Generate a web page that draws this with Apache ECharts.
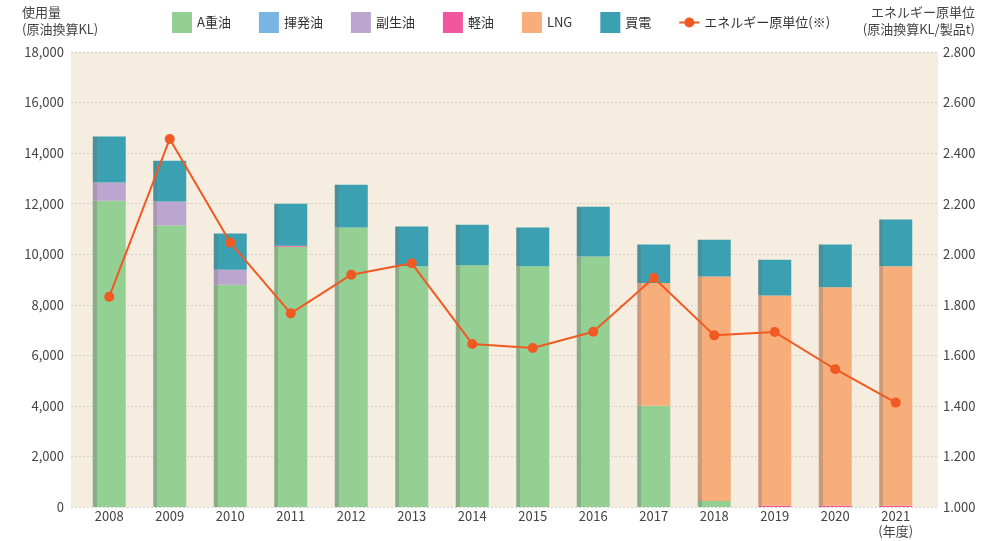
<!DOCTYPE html>
<html>
<head>
<meta charset="utf-8">
<script src="https://cdn.jsdelivr.net/npm/echarts@6/dist/echarts.min.js"></script>
<style>
  html, body { margin: 0; padding: 0; background: #fff; }
</style>
</head>
<body>
<div id="chart" style="width: 983px; height: 541px"></div>
<script>
// 年度
const years = ['2008', '2009', '2010', '2011', '2012', '2013', '2014', '2015', '2016', '2017', '2018', '2019', '2020', '2021\n(年度)'];
// 使用量 (原油換算KL)
const aHeavyOil = [12120, 11140, 8790, 10300, 11060, 9520, 9560, 9520, 9910, 4010, 240, 0, 0, 0];
const volatileOil = [0, 0, 0, 0, 0, 0, 0, 0, 0, 0, 0, 0, 0, 0];
const byproductOil = [720, 950, 600, 0, 0, 0, 0, 0, 0, 0, 0, 0, 0, 0];
const lightOil = [0, 0, 0, 40, 0, 0, 0, 0, 0, 0, 0, 50, 50, 50];
const lng = [0, 0, 0, 0, 0, 0, 0, 0, 0, 4850, 8880, 8320, 8640, 9470];
const boughtPower = [1820, 1610, 1430, 1660, 1690, 1580, 1610, 1540, 1970, 1520, 1450, 1410, 1690, 1850];
// エネルギー原単位
const intensity = [1.832, 2.456, 2.046, 1.766, 1.919, 1.964, 1.645, 1.629, 1.693, 1.907, 1.679, 1.692, 1.545, 1.413];

const leftTicks = [0, 18000, 2000];
const rightTicks = [1.0, 2.8, 0.2];

const FONT = '"Noto Sans CJK JP", "Noto Sans", sans-serif';

// 左側に暗い帯を入れて立体っぽく見せる
function sideShade(main, side) {
  return {
    type: 'linear', x: 0, y: 0, x2: 1, y2: 0,
    colorStops: [
      { offset: 0, color: side },
      { offset: 0.12, color: side },
      { offset: 0.12, color: main },
      { offset: 1, color: main }
    ]
  };
}

function barSeries(name, data, main, side) {
  return {
    name: name,
    type: 'bar',
    stack: 'use',
    xAxisIndex: 0,
    yAxisIndex: 0,
    barWidth: 33,
    color: main,
    itemStyle: { color: sideShade(main, side) },
    data: data
  };
}

function legendRect(name, color) {
  return { name: name, icon: 'rect', itemStyle: { color: color } };
}

const chart = echarts.init(document.getElementById('chart'));
chart.setOption({
  animation: false,
  textStyle: { fontFamily: FONT },
  legend: {
    top: 7,
    left: 167,
    itemWidth: 20,
    itemHeight: 21,
    itemGap: 28,
    textStyle: { fontSize: 13, color: '#333', fontFamily: FONT },
    data: [
      legendRect('A重油', '#94cf94'),
      legendRect('揮発油', '#7ab4e0'),
      legendRect('副生油', '#bba6cf'),
      legendRect('軽油', '#f0579e'),
      legendRect('LNG', '#f8ae7a'),
      legendRect('買電', '#3aa0b2'),
      {
        name: 'エネルギー原単位(※)',
        icon: 'path://M0,9H20V11H0Z M15,10A5,5 0 1 1 5,10A5,5 0 1 1 15,10Z',
        itemStyle: { color: '#f05a22' }
      }
    ]
  },
  graphic: [
    {
      type: 'text', x: 22, y: 4,
      style: { text: '使用量\n(原油換算KL)', font: '13px ' + FONT, fill: '#444', lineHeight: 17 }
    },
    {
      type: 'text', x: 975, y: 4,
      style: { text: 'エネルギー原単位\n(原油換算KL/製品t)', font: '13px ' + FONT, fill: '#444', lineHeight: 17, align: 'right' }
    }
  ],
  grid: [
    { left: 79, right: 57, top: 52, bottom: 34, outerBoundsMode: 'none', containLabel: false },
    { left: 71, right: 45, top: 52, bottom: 34, outerBoundsMode: 'none', containLabel: false,
      show: true, backgroundColor: '#f5eddf', borderWidth: 0 }
  ],
  xAxis: [
    {
      type: 'category',
      gridIndex: 0,
      data: years,
      axisLine: { show: false },
      axisTick: { show: false },
      axisLabel: { color: '#444', fontSize: 13, margin: 2, lineHeight: 15, fontFamily: FONT }
    },
    {
      type: 'value',
      gridIndex: 1,
      show: false
    }
  ],
  yAxis: [
    { type: 'value', gridIndex: 0, min: leftTicks[0], max: leftTicks[1], interval: leftTicks[2], show: false },
    { type: 'value', gridIndex: 0, min: rightTicks[0], max: rightTicks[1], interval: rightTicks[2], show: false },
    {
      type: 'value', gridIndex: 1, position: 'left',
      min: leftTicks[0], max: leftTicks[1], interval: leftTicks[2],
      axisLine: { show: false }, axisTick: { show: false },
      axisLabel: { color: '#444', fontSize: 13, margin: 7, fontFamily: FONT,
        formatter: v => v.toLocaleString('en-US') },
      splitLine: { lineStyle: { color: '#d6d0c6', type: [2, 2], width: 1 } }
    },
    {
      type: 'value', gridIndex: 1, position: 'right',
      min: rightTicks[0], max: rightTicks[1], interval: rightTicks[2],
      axisLine: { show: false }, axisTick: { show: false },
      axisLabel: { color: '#444', fontSize: 13, margin: 5, fontFamily: FONT,
        formatter: v => v.toFixed(3) },
      splitLine: { show: false }
    }
  ],
  series: [
    barSeries('A重油', aHeavyOil, '#94cf94', '#88ad87'),
    barSeries('揮発油', volatileOil, '#7ab4e0', '#6e9cbf'),
    barSeries('副生油', byproductOil, '#bba6cf', '#a797b4'),
    barSeries('軽油', lightOil, '#f0579e', '#c95c8c'),
    barSeries('LNG', lng, '#f8ae7a', '#c99a7c'),
    barSeries('買電', boughtPower, '#3aa0b2', '#4a8f9c'),
    {
      name: 'エネルギー原単位(※)',
      type: 'line',
      xAxisIndex: 0,
      yAxisIndex: 1,
      color: '#f05a22',
      symbol: 'circle',
      symbolSize: 10,
      lineStyle: { width: 2, color: '#f05a22' },
      itemStyle: { color: '#f05a22' },
      z: 5,
      data: intensity
    }
  ]
});
</script>
</body>
</html>
